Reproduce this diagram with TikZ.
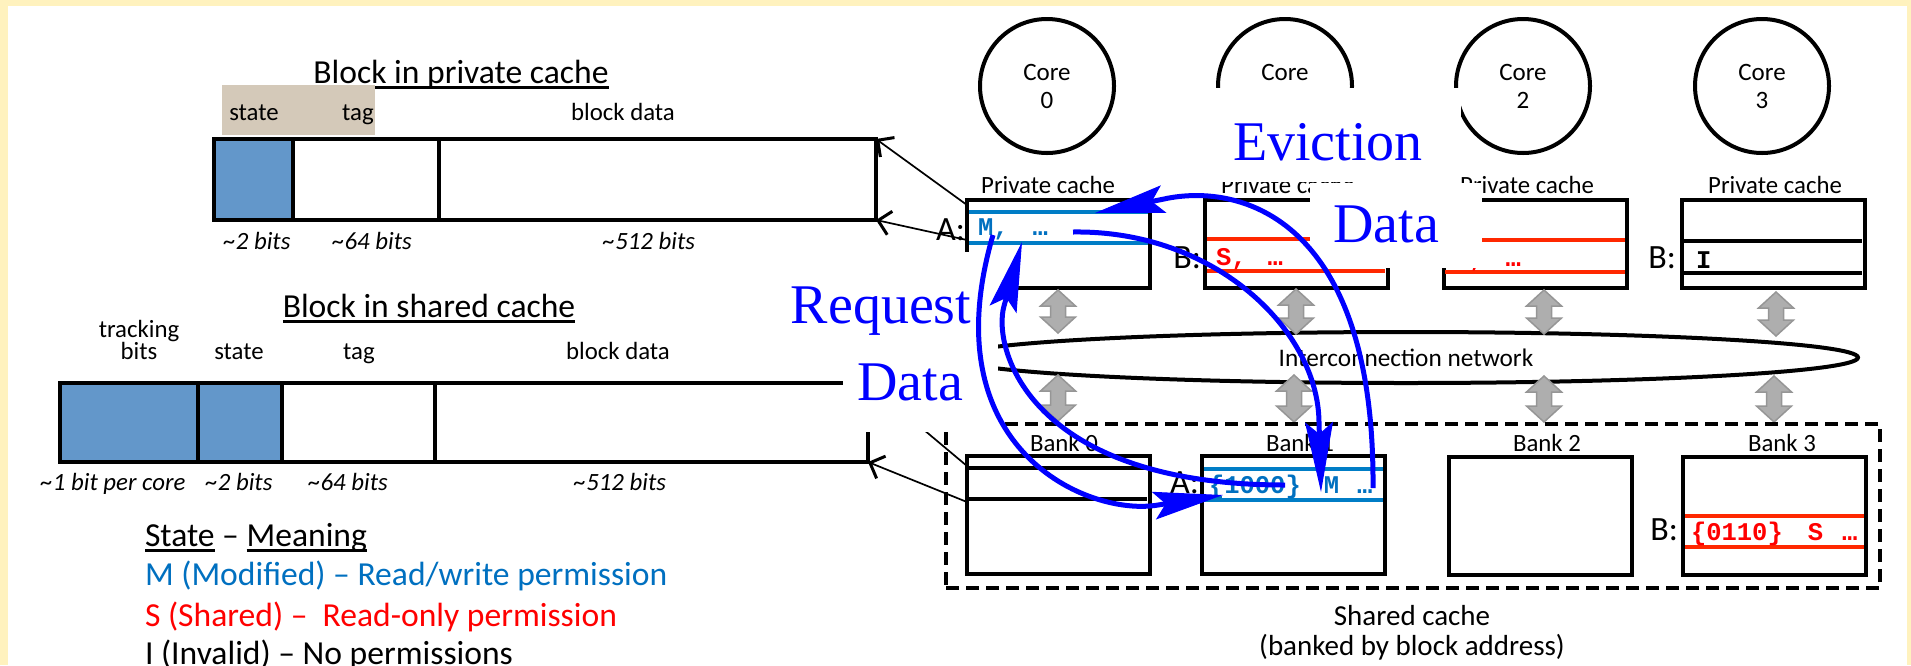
\documentclass[tikz,border=0pt]{standalone}
\usepackage{fontspec}
\setmainfont{Carlito}
\newfontfamily\serifl{Liberation Serif}
\newfontfamily\monol{Liberation Mono}
\usetikzlibrary{arrows.meta,shapes.geometric,calc}

\definecolor{frameyellow}{RGB}{255,242,190}
\definecolor{cellblue}{RGB}{99,151,202}
\definecolor{tagtan}{RGB}{212,201,185}
\definecolor{mblue}{RGB}{0,112,192}
\definecolor{mline}{RGB}{0,125,198}
\definecolor{sred}{RGB}{255,0,0}
\definecolor{sline}{RGB}{255,40,0}
\definecolor{netgray}{RGB}{174,174,174}
\definecolor{netgrayd}{RGB}{150,150,150}
\definecolor{flowblue}{RGB}{0,0,255}

% text with a rule just under its baseline
\newcommand\ulbox[1]{\setbox0=\hbox{#1}\rlap{\rule[-5.5pt]{\wd0}{2.5pt}}\box0\relax}

% fat grey two-headed link: x, top y, bottom y
\newcommand\gdarrow[3]{%
  \draw[garrow] (#1,#2) -- ++(17.5,16) -- ++(-10,0)
    -- ($(#1,#3)+(7.5,-16)$) -- ++(10,0) -- (#1,#3)
    -- ++(-17.5,-16) -- ++(10,0)
    -- ($(#1,#2)+(-7.5,16)$) -- ++(-10,0) -- cycle;}

\begin{document}
\begin{tikzpicture}[x=1pt,y=-1pt,
  txt/.style={inner sep=0pt,outer sep=0pt},
  title/.style={txt,font=\fontsize{33.6}{40}\selectfont},
  small/.style={txt,font=\fontsize{24.8}{29}\selectfont},
  mid/.style={txt,font=\fontsize{29}{34}\selectfont},
  sizelbl/.style={txt,font=\fontsize{24.8}{29}\selectfont\itshape},
  box/.style={draw,line width=4pt,inner sep=0pt,outer sep=0pt},
  corec/.style={circle,draw,line width=4pt,minimum size=134pt,inner sep=0pt,
    align=center,font=\fontsize{25}{28}\selectfont},
  rowtxt/.style={txt,font=\fontsize{25.5}{30}\monol\bfseries,anchor=base west},
  tagl/.style={txt,font=\fontsize{34}{40}\selectfont,anchor=base east},
  flow/.style={draw=flowblue,line width=5pt,
    -{Stealth[length=70pt,width=28pt,inset=12pt,line width=1pt]}},
  flowlbl/.style={txt,font=\fontsize{56}{60}\serifl,text=flowblue,anchor=base},
  ptr/.style={line width=1.7pt,-{Straight Barb[length=12pt,width=24pt,line width=3pt]}},
  garrow/.style={fill=netgray,draw=netgrayd,line width=1.5pt},
  rowb/.style={mline,line width=4.5pt},
  rowr/.style={sline,line width=4.5pt},
  rowk/.style={line width=4pt}]

\useasboundingbox (0,0) rectangle (1911,665);
\fill[frameyellow] (0,0) rectangle (1911,665);
\fill[white] (8,6) rectangle (1907,670);

% ---------- block in private cache ----------
\node[title,anchor=base] (ptitle) at (461,83) {\ulbox{Block in private cache}};
\fill[tagtan] (222,85) rectangle (375,135);
\node[small,anchor=base] (pstate) at (254,120) {state};
\node[small,anchor=base] (ptag) at (358,120) {tag};
\node[small,anchor=base] (pdata) at (623,120) {block data};
\fill[cellblue] (214,139) rectangle (293,220);
\node[box,minimum width=662pt,minimum height=81pt] (pblk) at (545,179.5) {};
\draw[line width=4pt] (293,139) -- (293,220);
\draw[line width=3.5pt] (439,139) -- (439,220);
\node[sizelbl,anchor=base] (psz1) at (257,249) {\textasciitilde2 bits};
\node[sizelbl,anchor=base] (psz2) at (372,249) {\textasciitilde64 bits};
\node[sizelbl,anchor=base] (psz3) at (649,249) {\textasciitilde512 bits};

% ---------- block in shared cache ----------
\node[title,anchor=base] (stitle) at (429,317) {\ulbox{Block in shared cache}};
\node[small,anchor=base] (strk) at (139,337) {tracking};
\node[small,anchor=base] (sbits) at (139,359) {bits};
\node[small,anchor=base] (sstate) at (239,359) {state};
\node[small,anchor=base] (stag) at (359,359) {tag};
\node[small,anchor=base] (sdata) at (618,359) {block data};
\fill[cellblue] (60,383) rectangle (282,462);
\node[box,minimum width=808pt,minimum height=79pt] (sblk) at (464,422.5) {};
\draw[line width=3.5pt] (198,383) -- (198,462);
\draw[line width=3.5pt] (282,383) -- (282,462);
\draw[line width=3.5pt] (435,383) -- (435,462);
\node[sizelbl,anchor=base] (ssz1) at (113,490) {\textasciitilde1 bit per core};
\node[sizelbl,anchor=base] (ssz2) at (239,490) {\textasciitilde2 bits};
\node[sizelbl,anchor=base] (ssz3) at (348,490) {\textasciitilde64 bits};
\node[sizelbl,anchor=base] (ssz4) at (620,490) {\textasciitilde512 bits};

% ---------- legend ----------
\node[title,anchor=base west] (lg0) at (145,546) {\ulbox{State} – \ulbox{Meaning}};
\node[title,anchor=base west,text=mblue] (lg1) at (145,585) {M (Modified) – Read/write permission};
\node[title,anchor=base west,text=sred] (lg2) at (145,626) {S (Shared) –\ \ Read-only permission};
\node[title,anchor=base west] (lg3) at (145,664) {I (Invalid) – No permissions};

% ---------- cores ----------
\node[corec] (core0) at (1047,86) {Core\\0};
\node[corec] (core1) at (1285,86) {Core\\1};
\node[corec] (core2) at (1523,86) {Core\\2};
\node[corec] (core3) at (1762,86) {Core\\3};

% ---------- private caches ----------
\node[small,anchor=base] (pcl0) at (1048,193) {Private cache};
\node[small,anchor=base] (pcl1) at (1288,193) {Private cache};
\node[small,anchor=base] (pcl2) at (1527,193) {Private cache};
\node[small,anchor=base] (pcl3) at (1775,193) {Private cache};
\node[box,minimum width=183pt,minimum height=88pt] (pc0) at (1058.5,244) {};
\node[box,minimum width=183pt,minimum height=88pt] (pc1) at (1296,244) {};
\node[box,minimum width=183pt,minimum height=88pt] (pc2) at (1535,244) {};
\node[box,minimum width=183pt,minimum height=88pt] (pc3) at (1773,244) {};

\draw[rowb] (969,212) -- (1148,212);
\draw[rowb] (969,243) -- (1148,243);
\draw[rowr] (1207,239) -- (1385,239);
\draw[rowr] (1207,271) -- (1385,271);
\draw[rowr] (1445,240) -- (1625,240);
\draw[rowr] (1445,272) -- (1625,272);
\draw[rowk] (1684,241) -- (1862,241);
\draw[rowk] (1684,273) -- (1862,273);

\node[rowtxt,text=mblue] (r0) at (978,235) {M,\hspace{24pt}…};
\node[rowtxt,text=sred] (r1) at (1216,265) {S,\hspace{21pt}…};
\node[rowtxt,text=sred] (r2) at (1454,266) {S,\hspace{21pt}…};
\node[rowtxt] (r3) at (1696,268) {I};

\node[tagl] (ta0) at (965,240) {A:};
\node[tagl] (tb1) at (1201,268) {B:};
\node[tagl] (tb3) at (1676,268) {B:};

% ---------- interconnection network ----------
\node[ellipse,draw,line width=4pt,minimum width=904pt,minimum height=51pt,inner sep=0pt,
  font=\fontsize{25.3}{30}\selectfont] (net) at (1406,357.5) {Interconnection network};
\gdarrow{1058}{290}{333}
\gdarrow{1296}{289}{334}
\gdarrow{1544}{290}{334}
\gdarrow{1776}{292}{336}
\gdarrow{1058}{375}{421}
\gdarrow{1294}{375}{422}
\gdarrow{1544}{376}{422}
\gdarrow{1774}{376}{422}

% ---------- shared cache banks ----------
\node[draw,line width=4pt,dash pattern=on 13pt off 7pt,minimum width=934pt,minimum height=164pt,
  inner sep=0pt,outer sep=0pt] (shc) at (1413,506) {};
\node[mid,anchor=base] (shl1) at (1412,625) {Shared cache};
\node[mid,anchor=base] (shl2) at (1412,655) {(banked by block address)};

\node[small,anchor=base] (bl0) at (1064,451) {Bank 0};
\node[small,anchor=base] (bl1) at (1300,451) {Bank 1};
\node[small,anchor=base] (bl2) at (1547,451) {Bank 2};
\node[small,anchor=base] (bl3) at (1782,451) {Bank 3};
\node[box,minimum width=183pt,minimum height=118pt] (bk0) at (1058.5,515) {};
\node[box,minimum width=183pt,minimum height=118pt] (bk1) at (1293.5,515) {};
\node[box,minimum width=183pt,minimum height=118pt] (bk2) at (1540,516) {};
\node[box,minimum width=183pt,minimum height=118pt] (bk3) at (1774.5,516) {};

\draw[rowk] (969,468) -- (1147,468);
\draw[rowk] (969,499) -- (1147,499);
\draw[rowb] (1204,469) -- (1383,469);
\draw[rowb] (1204,500) -- (1383,500);
\draw[rowr] (1685,516) -- (1864,516);
\draw[rowr] (1685,547) -- (1864,547);

\node[rowtxt,text=mblue] (rb1) at (1209,493) {\{1000\}\hspace{23pt}M\hspace{18pt}…};
\node[rowtxt,text=sred] (rb3) at (1691,540) {\{0110\}\hspace{25pt}S\hspace{19pt}…};
\node[tagl] (tab1) at (1199,493) {A:};
\node[tagl] (tbb3) at (1678,540) {B:};

% ---------- which block layout each row uses ----------
\draw[ptr] ($(pc0.north west)+(0,5)$) -- (pblk.north east);
\draw[ptr] ($(pc0.north west)+(0,40)$) -- (pblk.south east);
\draw[ptr] ($(bk0.north west)+(0,10)$) -- (sblk.north east);
\draw[ptr] ($(bk0.north west)+(0,46)$) -- (sblk.south east);

% ---------- message labels ----------
\fill[white] (1195,88) rectangle (1461,182);
\fill[white] (1310,183) rectangle (1482,268);
\fill[white] (746,252) rectangle (1017,340);
\fill[white] (843,335) rectangle (998,432);
\node[flowlbl] (lev) at (1328,160) {Eviction};
\node[flowlbl] (ldr) at (1386,242) {Data};
\node[flowlbl] (lrq) at (881,323) {Request};
\node[flowlbl] (ldl) at (910,400) {Data};

% ---------- message flows ----------
\coordinate (evS) at (1073,232);
\coordinate (evB) at (1319,422);
\coordinate (evT) at (1321,492);
\draw[flow] (evS) .. controls (1215,230) and (1318,330) .. (evB) -- (evT);

\coordinate (drS) at (1373,488);
\coordinate (drB) at (1164,199);
\coordinate (drT) at (1095,213);
\draw[flow] (drS) .. controls (1375,220) and (1242,182) .. (drB) -- (drT);

\coordinate (rqS) at (993,235);
\coordinate (rqB) at (1158,505);
\coordinate (rqT) at (1223,495);
\draw[flow] (rqS) .. controls (930,450) and (1089,517) .. (rqB) -- (rqT);

\coordinate (dlS) at (1285,485);
\coordinate (dlB) at (1004,306);
\coordinate (dlT) at (1022,242);
\draw[flow] (dlS) .. controls (1030,485) and (992,349) .. (dlB) -- (dlT);

\end{tikzpicture}
\end{document}
